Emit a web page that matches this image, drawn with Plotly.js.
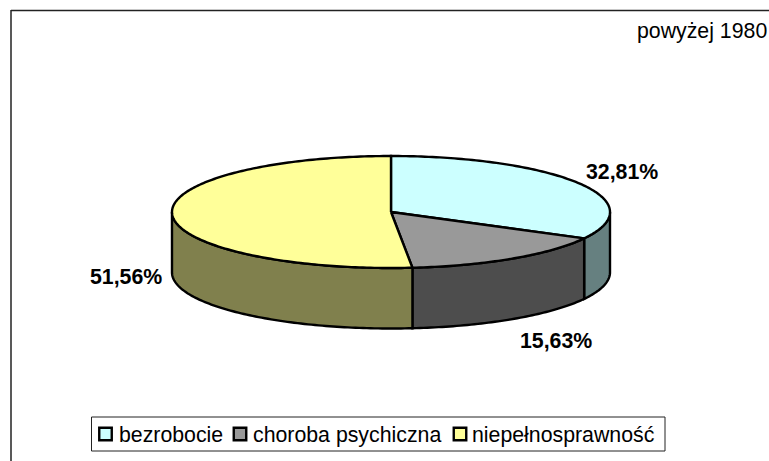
<!DOCTYPE html>
<html>
<head>
<meta charset="utf-8">
<script src="https://cdn.plot.ly/plotly-3.0.1.min.js"></script>
<style>html,body{margin:0;padding:0;background:#fff;overflow:hidden}#chart{width:769px;height:461px}</style>
</head>
<body>
<div id="chart"></div>
<script>
const categories = ['bezrobocie', 'choroba psychiczna', 'niepełnosprawność'];
const values = [32.81, 15.63, 51.56];
const valueLabels = ['32,81%', '15,63%', '51,56%'];
const topColors = ['#CCFFFF', '#999999', '#FFFF99'];
const sideColors = ['#668080', '#4D4D4D', '#80804D'];
const labelPos = [[622, 171.6], [556, 340.6], [126, 277]];
const legendSwatchX = [105.5, 240, 460];
const legendTextX = [116.5, 251, 470];
const subtitle = 'powyżej 1980';

const cx = 391, cy = 212, rx = 219, ry = 56, depth = 60.5, legendY = 434;
const font = 'Liberation Sans, Arial, sans-serif';
const pt = (deg, dy) => {
  const a = deg * Math.PI / 180;
  return [cx + rx * Math.sin(a), cy - ry * Math.cos(a) + (dy || 0)];
};
const arc = (from, to, dy) => {
  const out = [], n = Math.max(2, Math.ceil(Math.abs(to - from)));
  for (let i = 0; i <= n; i++) out.push(pt(from + (to - from) * i / n, dy));
  return out;
};
const poly = (pts, color, name) => ({
  type: 'scatter', mode: 'lines', x: pts.map(p => p[0]), y: pts.map(p => p[1]),
  fill: 'toself', fillcolor: color, line: {color: '#000', width: 2.4, simplify: false},
  hoverinfo: 'skip', name: name, showlegend: false
});

const total = values.reduce((a, b) => a + b, 0);
let start = 0;
const sides = [], tops = [];
values.forEach((v, i) => {
  const end = start + v / total * 360;
  const s = Math.max(start, 90), e = Math.min(end, 270);
  if (e > s) sides.push(poly(arc(s, e, 0).concat(arc(e, s, depth)).concat([pt(s, 0)]), sideColors[i], categories[i]));
  tops.push(poly([[cx, cy]].concat(arc(start, end, 0)).concat([[cx, cy]]), topColors[i], categories[i]));
  start = end;
});

const swatches = {
  type: 'scatter', mode: 'markers', x: legendSwatchX, y: legendSwatchX.map(() => legendY),
  marker: {symbol: 'square', size: 12.5, color: topColors, line: {color: '#000', width: 2.4}},
  hoverinfo: 'skip', showlegend: false
};

const annotations = valueLabels.map((t, i) => ({
  x: labelPos[i][0], y: labelPos[i][1], xref: 'x', yref: 'y', text: t, showarrow: false,
  font: {family: font, size: 21.3, color: '#000', weight: 700}, xanchor: 'center', yanchor: 'middle'
})).concat(categories.map((t, i) => ({
  x: legendTextX[i], y: legendY + 0.6, xref: 'x', yref: 'y', text: t, showarrow: false,
  font: {family: font, size: 21.3, color: '#000'}, xanchor: 'left', yanchor: 'middle'
}))).concat([{
  x: 702, y: 31, xref: 'x', yref: 'y', text: subtitle, showarrow: false,
  font: {family: font, size: 21.3, color: '#000'}, xanchor: 'center', yanchor: 'middle'
}]);

const shapes = [
  {type: 'line', x0: 11, x1: 769, y0: 10.5, y1: 10.5, line: {color: '#222', width: 1.5}},
  {type: 'line', x0: 11, x1: 11, y0: 10, y1: 461, line: {color: '#222', width: 1.5}},
  {type: 'rect', x0: 91.5, x1: 665, y0: 417, y1: 451, line: {color: '#222', width: 1}, fillcolor: '#fff', layer: 'below'}
];

Plotly.newPlot('chart', sides.concat(tops, [swatches]), {
  width: 769, height: 461, margin: {l: 0, r: 0, t: 0, b: 0},
  paper_bgcolor: '#fff', plot_bgcolor: '#fff', showlegend: false,
  xaxis: {range: [0, 769], visible: false, fixedrange: true},
  yaxis: {range: [461, 0], visible: false, fixedrange: true},
  shapes: shapes, annotations: annotations, font: {family: font}
}, {staticPlot: true, displayModeBar: false});
</script>
</body>
</html>
